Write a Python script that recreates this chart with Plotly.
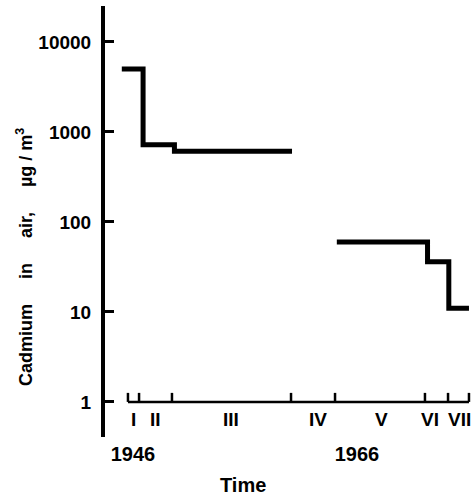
import plotly.graph_objects as go

# ---- data ----
# Cadmium concentration step series (period boundaries in years, value per step)
early_bounds = [1945.0, 1946.9, 1949.7, 1960.2]
early_values = [5000, 720, 610]
late_bounds = [1964.2, 1972.3, 1974.2, 1976.0]
late_values = [60, 36, 11]

# period markers on the time bracket
period_bounds = [1945.55, 1946.54, 1949.48, 1960.11, 1964.04, 1972.07, 1974.13, 1976.0]
period_labels = ["I", "II", "III", "IV", "V", "VI", "VII"]
label_nudge = [0, 0, 0, 5, 2, -6, 1]

year_ticks = [1946, 1966]
y_ticks = [1, 10, 100, 1000, 10000]
y_tick_labels = ["1", "10", "100", "1000", "10000"]

BOLD = dict(family="Liberation Sans", color="black", weight="bold")

def steps(bounds, values):
    return list(bounds), list(values) + [values[-1]]

x1, y1 = steps(early_bounds, early_values)
x2, y2 = steps(late_bounds, late_values)

fig = go.Figure()
fig.add_trace(go.Scatter(x=x1 + [None] + x2, y=y1 + [None] + y2, mode="lines",
                         line=dict(color="black", width=5, shape="hv"),
                         connectgaps=False, hoverinfo="skip", showlegend=False))

# time bracket at y = 1 with upward ticks
tick_h = 1.26
bx = [period_bounds[0], period_bounds[-1]]
by = [1, 1]
for b in period_bounds:
    bx += [None, b, b]
    by += [None, 1, tick_h]
fig.add_trace(go.Scatter(x=bx, y=by, mode="lines",
                         line=dict(color="black", width=2.5),
                         hoverinfo="skip", showlegend=False))

annotations = []
for i, lab in enumerate(period_labels):
    mid = (period_bounds[i] + period_bounds[i + 1]) / 2
    annotations.append(dict(x=mid, y=0, xref="x", yref="y", text=lab, showarrow=False,
                            yanchor="top", yshift=-5, xshift=label_nudge[i],
                            font=dict(size=19, **BOLD)))

annotations.append(dict(x=0.375, y=-0.111, xref="paper", yref="paper", text="Time",
                        showarrow=False, xanchor="center", yanchor="middle",
                        font=dict(size=20, **BOLD)))
sp = "\u00a0" * 5
annotations.append(dict(x=-0.22, y=0.4176, xref="paper", yref="paper",
                        text=f"Cadmium{sp}in{sp}air,{sp}µg / m<sup>3</sup>",
                        textangle=-90, showarrow=False, xanchor="center", yanchor="middle",
                        font=dict(size=18, **BOLD)))

fig.update_layout(
    width=475, height=499,
    margin=dict(l=105, r=2, t=6, b=62),
    paper_bgcolor="white", plot_bgcolor="white",
    showlegend=False,
    annotations=annotations,
    xaxis=dict(range=[1943.5, 1976.36], showgrid=False, zeroline=False, showline=False,
               ticks="", tickvals=year_ticks, ticktext=[str(v) for v in year_ticks],
               ticklabelstandoff=3,
               tickfont=dict(size=20, **BOLD), automargin=False, fixedrange=True),
    yaxis=dict(type="log", range=[-0.39, 4.4], showgrid=False, zeroline=False,
               showline=True, linewidth=4, linecolor="black",
               ticks="inside", ticklen=9, tickwidth=3, tickcolor="black",
               tickvals=y_ticks, ticktext=y_tick_labels, ticklabelstandoff=6,
               tickfont=dict(size=19, **BOLD), automargin=False, fixedrange=True),
)

fig.write_html("out.html")
